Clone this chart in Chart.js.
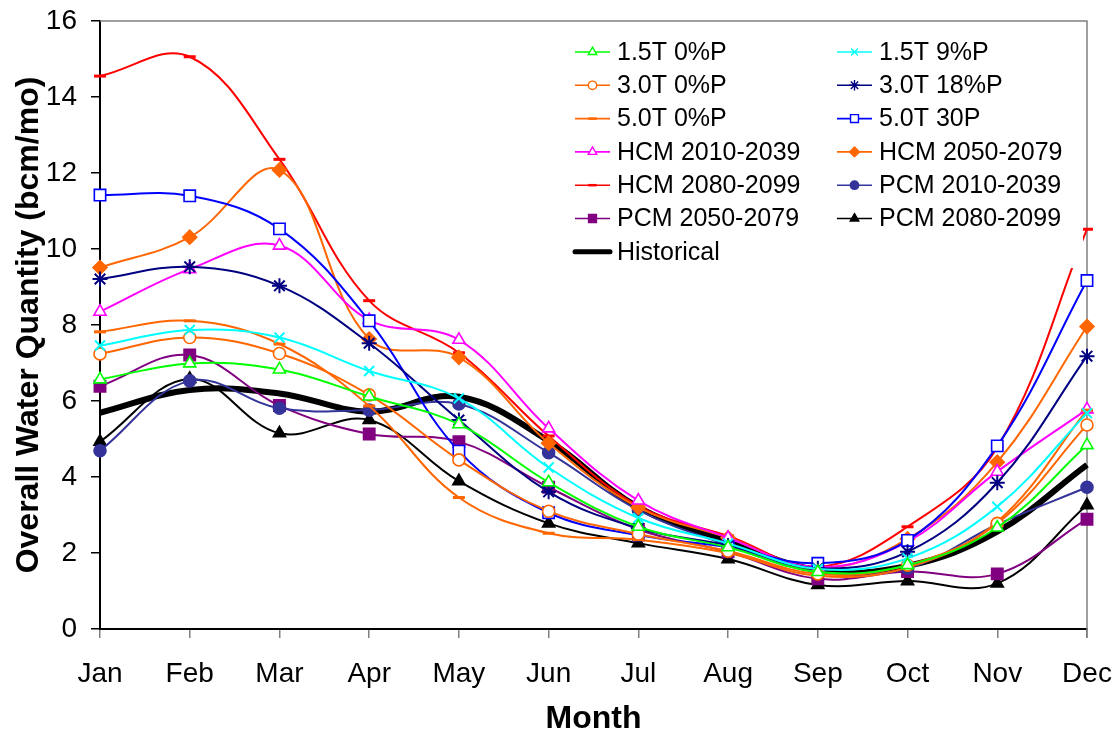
<!DOCTYPE html>
<html>
<head>
    <title>Overall Water Quantity by Month</title>
    <script src="https://cdn.jsdelivr.net/npm/chart.js"></script>
    <style>
        body {
            margin: 0;
            background-color: #ffffff;
        }
        #wrap {
            width: 1120px;
            height: 738px;
        }
    </style>
</head>
<body>
    <div id="wrap">
        <canvas id="waterChart" width="1120" height="738"></canvas>
    </div>

    <script>
        // Months on the x axis
        const months = ['Jan', 'Feb', 'Mar', 'Apr', 'May', 'Jun', 'Jul', 'Aug', 'Sep', 'Oct', 'Nov', 'Dec'];

        // Series values (bcm/mo)
        const t15p0  = [6.57, 6.99, 6.83, 6.12, 5.39, 3.86, 2.69, 2.15, 1.50, 1.68, 2.67, 4.84];
        const t15p9  = [7.46, 7.87, 7.67, 6.79, 6.07, 4.25, 2.92, 2.25, 1.58, 1.86, 3.22, 5.68];
        const t30p0  = [7.24, 7.67, 7.25, 6.16, 4.45, 3.10, 2.50, 2.05, 1.45, 1.68, 2.78, 5.37];
        const t30p18 = [9.21, 9.53, 9.03, 7.52, 5.50, 3.61, 2.65, 2.20, 1.60, 2.03, 3.85, 7.18];
        const t50p0  = [7.82, 8.11, 7.50, 5.87, 3.46, 2.52, 2.35, 2.00, 1.40, 1.62, 2.82, 5.76];
        const t50p30 = [11.42, 11.40, 10.53, 8.11, 4.68, 3.06, 2.47, 2.15, 1.73, 2.33, 4.82, 9.17];
        const hcm2010 = [8.35, 9.47, 10.09, 8.13, 7.61, 5.28, 3.38, 2.40, 1.63, 2.30, 4.14, 5.78];
        const hcm2050 = [9.51, 10.31, 12.08, 7.63, 7.15, 4.89, 3.20, 2.40, 1.60, 2.37, 4.39, 7.96];
        const hcm2080 = [14.55, 15.06, 12.36, 8.64, 7.27, 5.08, 3.24, 2.45, 1.64, 2.69, 4.78, 10.52];
        const pcm2010 = [4.69, 6.53, 5.81, 5.76, 5.92, 4.64, 3.13, 2.21, 1.51, 1.60, 2.75, 3.73];
        const pcm2050 = [6.39, 7.21, 5.88, 5.13, 4.93, 3.73, 2.62, 2.03, 1.32, 1.51, 1.45, 2.89];
        const pcm2080 = [4.93, 6.58, 5.15, 5.50, 3.89, 2.78, 2.26, 1.84, 1.16, 1.26, 1.20, 3.26];
        const historical = [5.69, 6.29, 6.20, 5.72, 6.11, 4.95, 3.20, 2.32, 1.55, 1.66, 2.56, 4.32];

        const TENSION = 0.38;

        // helper for one scenario line
        function series(label, data, color, style, radius, filled, pbw) {
            return {
                label: label,
                data: data,
                borderColor: color,
                backgroundColor: color,
                borderWidth: 2,
                tension: TENSION,
                pointStyle: style,
                pointRadius: radius,
                pointHoverRadius: radius,
                pointBorderColor: color,
                pointBackgroundColor: filled ? color : '#ffffff',
                pointBorderWidth: pbw || 1.6,
                clip: false
            };
        }

        const datasets = [
            series('1.5T 0%P', t15p0, '#00FF00', 'triangle', 7, false),
            series('1.5T 9%P', t15p9, '#00FFFF', 'crossRot', 7, false, 2),
            series('3.0T 0%P', t30p0, '#FF6600', 'circle', 6, false),
            series('3.0T 18%P', t30p18, '#000080', 'star', 7.5, false, 2),
            series('5.0T 0%P', t50p0, '#FF6600', 'line', 6, true, 3),
            series('5.0T 30P', t50p30, '#0000FF', 'rect', 8, false),
            series('HCM 2010-2039', hcm2010, '#FF00FF', 'triangle', 7, false),
            series('HCM 2050-2079', hcm2050, '#FF6600', 'rectRot', 7, true),
            series('HCM 2080-2099', hcm2080, '#FF0000', 'line', 6, true, 3),
            series('PCM 2010-2039', pcm2010, '#333399', 'circle', 6, true),
            series('PCM 2050-2079', pcm2050, '#800080', 'rect', 8, true),
            series('PCM 2080-2099', pcm2080, '#000000', 'triangle', 7, true),
            {
                label: 'Historical',
                data: historical,
                borderColor: '#000000',
                backgroundColor: '#000000',
                borderWidth: 6,
                tension: TENSION,
                pointRadius: 0,
                pointHoverRadius: 0,
                clip: false
            }
        ];

        // gray frame on top and right of plot area
        const frame = {
            id: 'frame',
            beforeDatasetsDraw(chart) {
                const {ctx, chartArea: a} = chart;
                ctx.save();
                ctx.strokeStyle = '#808080';
                ctx.lineWidth = 1.5;
                ctx.beginPath();
                ctx.moveTo(a.left, a.top);
                ctx.lineTo(a.right, a.top);
                ctx.lineTo(a.right, a.bottom + 9);
                ctx.stroke();
                ctx.restore();
            }
        };

        // two column legend drawn inside the plot
        const legendBox = {
            id: 'legendBox',
            afterDatasetsDraw(chart) {
                const ctx = chart.ctx;
                ctx.save();
                ctx.fillStyle = '#ffffff';
                ctx.fillRect(566, 23, 517, 245);
                ctx.font = '25px Arial';
                ctx.textBaseline = 'middle';
                ctx.textAlign = 'left';
                chart.data.datasets.forEach((ds, i) => {
                    const col = i % 2;
                    const row = Math.floor(i / 2);
                    const x0 = col ? 837 : 575;
                    const y = 52 + row * 33.3;
                    ctx.strokeStyle = ds.borderColor;
                    if (ds.label === 'Historical') {
                        ctx.lineWidth = 5;
                        ctx.lineCap = 'round';
                    } else {
                        ctx.lineWidth = 1.6;
                        ctx.lineCap = 'butt';
                    }
                    ctx.beginPath();
                    ctx.moveTo(x0, y);
                    ctx.lineTo(x0 + 35, y);
                    ctx.stroke();
                    if (ds.pointRadius) {
                        ctx.fillStyle = ds.pointBackgroundColor;
                        ctx.strokeStyle = ds.pointBorderColor;
                        ctx.lineWidth = ds.pointBorderWidth > 2 ? 2.5 : 1.4;
                        Chart.helpers.drawPoint(ctx, {
                            pointStyle: ds.pointStyle,
                            rotation: 0,
                            radius: ds.pointRadius * 0.7,
                            borderWidth: ctx.lineWidth
                        }, x0 + 17.5, y);
                    }
                    ctx.fillStyle = '#000000';
                    ctx.fillText(ds.label, x0 + 42, y + 1);
                });
                ctx.restore();
            }
        };

        const ctx = document.getElementById('waterChart').getContext('2d');
        new Chart(ctx, {
            type: 'line',
            data: {
                labels: months,
                datasets: datasets
            },
            plugins: [frame, legendBox],
            options: {
                responsive: false,
                animation: false,
                layout: {
                    padding: { left: 0, right: 33, top: 21, bottom: 0 }
                },
                plugins: {
                    legend: { display: false },
                    tooltip: { enabled: false }
                },
                scales: {
                    x: {
                        offset: false,
                        afterFit: function(scale) {
                            scale.height = 109;
                            scale.paddingLeft = 0;
                            scale.paddingRight = 0;
                        },
                        grid: {
                            offset: false,
                            drawOnChartArea: false,
                            drawTicks: true,
                            tickLength: 9,
                            color: '#808080',
                            lineWidth: 1.5
                        },
                        border: { display: true, color: '#000000', width: 2 },
                        ticks: {
                            autoSkip: false,
                            maxRotation: 0,
                            padding: 19,
                            color: '#000000',
                            font: { family: 'Arial', size: 28 }
                        },
                        title: {
                            display: true,
                            text: 'Month',
                            color: '#000000',
                            padding: { top: 0, bottom: 0 },
                            font: { family: 'Arial', size: 32, weight: 'bold' }
                        }
                    },
                    y: {
                        min: 0,
                        max: 16,
                        afterFit: function(scale) {
                            scale.width = 100;
                            scale.paddingTop = 0;
                            scale.paddingBottom = 0;
                        },
                        grid: {
                            drawOnChartArea: false,
                            drawTicks: true,
                            tickLength: 9,
                            color: '#000000',
                            lineWidth: 1.5
                        },
                        border: { display: true, color: '#000000', width: 2 },
                        ticks: {
                            stepSize: 2,
                            padding: 14,
                            color: '#000000',
                            font: { family: 'Arial', size: 28 }
                        },
                        title: {
                            display: true,
                            text: 'Overall Water Quantity (bcm/mo)',
                            color: '#000000',
                            padding: { top: 10, bottom: 0 },
                            font: { family: 'Arial', size: 32, weight: 'bold' }
                        }
                    }
                }
            }
        });
    </script>
</body>
</html>
